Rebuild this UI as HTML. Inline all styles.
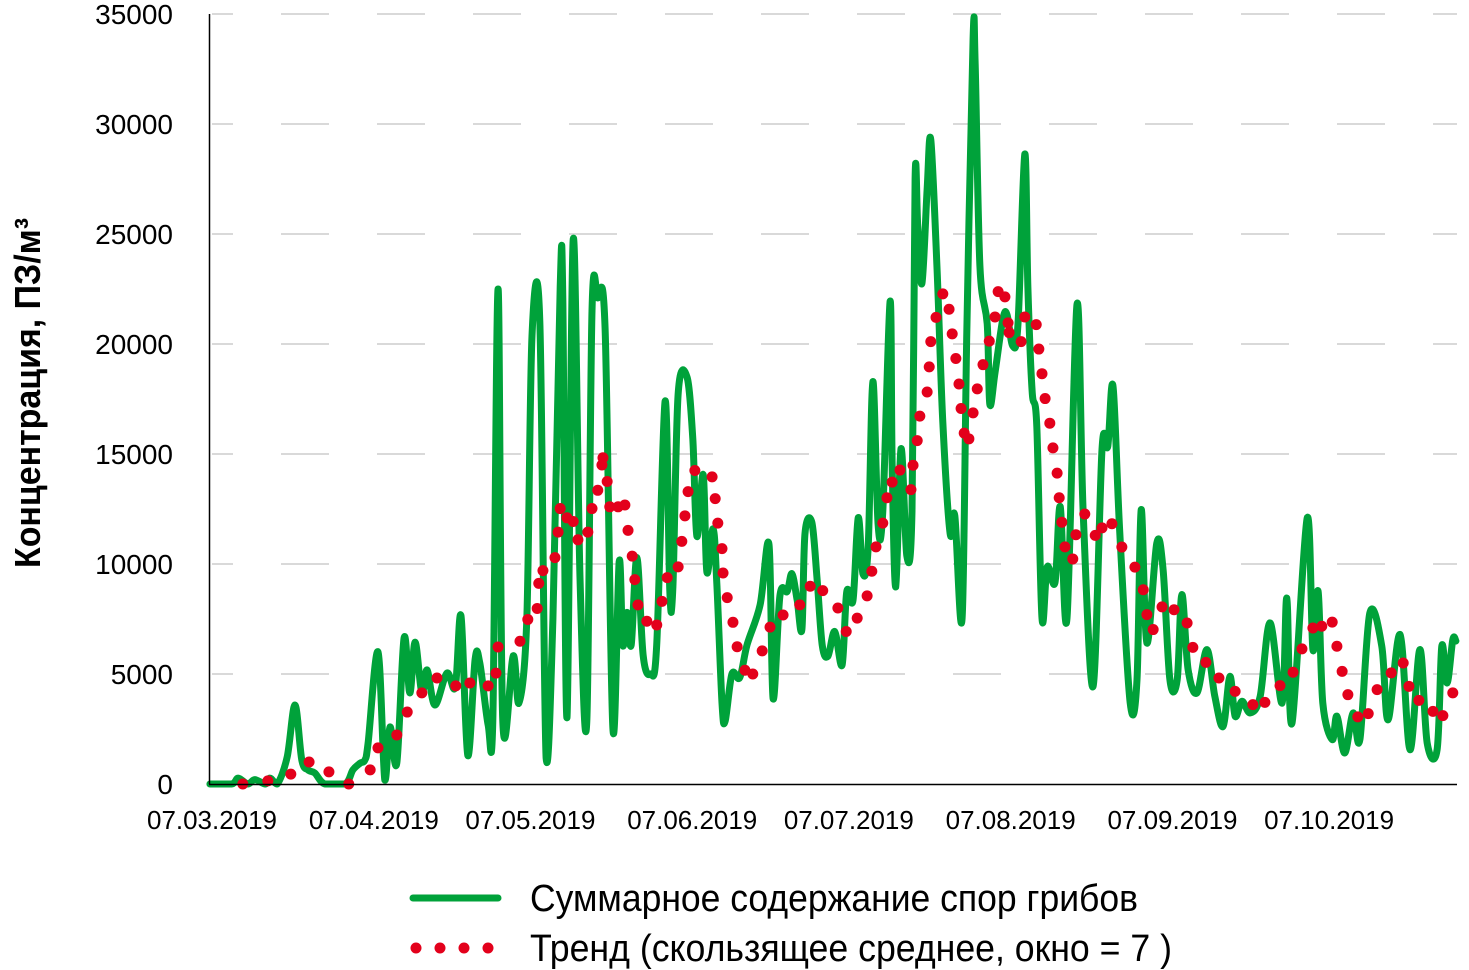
<!DOCTYPE html>
<html><head><meta charset="utf-8"><style>
html,body{margin:0;padding:0;background:#fff;}
svg{display:block;font-family:"Liberation Sans Narrow","Liberation Sans",sans-serif;}
</style></head><body>
<svg id="chart" width="1469" height="970" viewBox="0 0 1469 970" xmlns="http://www.w3.org/2000/svg">
<g id="grid"></g>
<g id="yticks"></g>
<g id="xticks"></g>
<text transform="translate(40,393) rotate(-90)" text-anchor="middle" font-weight="bold" font-size="36" textLength="350" lengthAdjust="spacingAndGlyphs" fill="#000">Концентрация, ПЗ/м³</text>
<g id="series"></g>
<line x1="209.5" y1="14" x2="209.5" y2="784" stroke="#000" stroke-width="1.5"/>
<line x1="209" y1="784.5" x2="1457" y2="784.5" stroke="#000" stroke-width="1.5"/>
<g>
<g>
<line x1="413" y1="898" x2="498" y2="898" stroke="#00a23a" stroke-width="7" stroke-linecap="round"/>
<text x="530" y="911" font-size="38" textLength="608" lengthAdjust="spacingAndGlyphs" fill="#000">Суммарное содержание спор грибов</text>
</g>
<g>
<circle cx="416" cy="948" r="5.5" fill="#e3001b"/>
<circle cx="440" cy="948" r="5.5" fill="#e3001b"/>
<circle cx="464" cy="948" r="5.5" fill="#e3001b"/>
<circle cx="488" cy="948" r="5.5" fill="#e3001b"/>
<text x="530" y="961" font-size="38" textLength="642" lengthAdjust="spacingAndGlyphs" fill="#000">Тренд (скользящее среднее, окно = 7 )</text>
</g>
</g>
</svg>
<script>
const yTicks = [0,5000,10000,15000,20000,25000,30000,35000];
const xTickDays = [0,31,61,92,122,153,184,214];
const xTickLabels = ["07.03.2019","07.04.2019","07.05.2019","07.06.2019","07.07.2019","07.08.2019","07.09.2019","07.10.2019"];
const totalDays = [-0.4,3.8,5.0,6.9,8.2,10.2,11.1,12.5,14.4,15.9,17.2,18.4,19.7,21.6,25.5,27.0,28.4,29.3,29.9,31.8,33.1,34.1,35.4,36.8,37.9,38.9,40.2,41.2,42.7,45.0,46.6,47.7,49.0,50.4,51.3,52.9,53.8,54.8,55.7,57.7,58.8,60.3,61.3,62.8,64.0,65.3,66.7,67.2,68.0,69.2,70.5,71.8,72.8,73.9,75.3,76.8,78.0,78.7,79.5,80.3,81.4,82.6,84.0,85.2,86.8,87.7,88.3,89.3,91.0,92.1,92.9,94.1,94.8,96.0,96.7,97.7,98.3,99.6,101.1,102.5,105.0,106.7,107.5,108.8,110.2,111.1,112.1,113.0,113.6,114.9,115.9,116.9,118.0,119.3,120.7,121.6,122.8,123.8,124.7,125.7,126.6,127.6,128.5,129.9,130.3,131.0,132.0,133.1,134.1,134.7,135.2,136.0,137.0,137.7,138.9,140.0,141.4,142.3,143.7,144.6,145.8,146.2,147.1,148.5,149.0,150.0,151.5,152.3,153.4,154.4,155.7,156.3,157.1,158.0,159.0,160.0,161.5,162.5,163.8,165.7,166.9,168.8,170.5,171.6,172.6,173.9,175.9,177.2,178.0,179.1,181.0,182.2,183.5,184.9,185.8,187.0,188.7,190.6,192.1,193.7,195.0,196.0,197.3,198.9,200.8,202.7,205.0,205.9,206.9,209.8,210.9,211.9,212.8,214.6,215.5,217.0,218.6,219.9,221.8,224.1,225.3,227.6,229.5,231.4,232.8,234.7,235.6,236.6,237.7,238.3];
const totalValues = [0,0,270,0,200,0,270,0,1230,3590,1090,640,500,0,0,640,950,1090,1860,6000,180,2590,950,6640,4140,6450,4140,5180,3590,5040,4410,7640,1300,5660,5500,2690,2850,22500,2850,5830,3680,7480,20370,21030,1190,7480,22600,22100,3020,24750,9380,2850,21500,22100,20700,2520,10120,6320,7800,6320,10290,5830,5000,6320,17400,8800,8970,17700,18500,15700,11260,14060,9630,11600,9130,3680,2850,5000,4830,6320,8140,10880,3880,8550,8750,9560,8350,7030,11390,11900,9360,6320,5810,6930,5410,8750,8350,12100,9560,10780,18290,11800,12400,21940,14430,8960,15240,10380,12400,27520,25400,22750,27010,29280,23360,16460,11390,12200,7540,20520,33900,32690,23560,20920,17270,18690,21130,21330,19910,20920,28630,22550,17880,16260,7540,9870,9160,12610,7540,21800,12320,4440,15200,15350,18080,11410,3680,4740,12470,6410,10950,9740,4740,4740,8610,5200,4140,6110,3990,2620,4890,3080,3760,3230,3990,7320,3680,8450,2770,12090,6110,8760,3680,2020,3080,1410,3230,2020,7770,6260,2920,6790,1560,6110,1860,1560,6260,4590,6560,6500];
const trendDays = [5.9,10.7,15.1,18.6,22.4,26.2,30.3,31.8,35.4,37.4,40.2,43.1,46.7,49.4,52.9,54.4,54.8,59.0,60.5,62.3,62.6,63.4,65.7,66.3,66.7,68.0,69.2,70.1,72.0,72.8,73.9,74.7,74.9,75.7,76.2,77.8,79.1,79.7,80.5,81.0,81.6,83.3,85.2,86.2,87.2,89.3,90.0,90.6,91.2,92.5,95.8,96.4,96.9,97.7,97.9,98.7,99.8,100.6,102.1,103.6,105.4,106.9,109.4,112.6,114.6,117.0,119.9,121.5,123.6,125.5,126.4,127.2,128.5,129.3,130.3,131.8,133.9,134.3,135.1,135.6,137.0,137.4,137.7,138.7,140.0,141.2,141.8,142.5,143.1,143.5,144.1,145.0,145.8,146.6,147.7,148.9,150.0,150.6,151.9,152.5,152.7,155.0,155.7,157.9,158.4,159.0,159.6,160.5,161.1,161.9,162.3,162.8,163.4,164.9,165.5,167.2,169.2,170.5,172.4,174.3,176.8,178.4,179.1,180.3,182.0,184.3,186.8,187.9,190.4,192.9,196.0,199.4,201.7,204.6,207.1,208.8,210.9,212.6,214.6,215.5,216.5,217.6,219.5,221.5,223.2,225.9,228.2,229.3,231.2,233.9,235.8,237.7];
const trendValues = [0,140,450,1000,550,0,640,1640,2230,3270,4140,4820,4460,4590,4460,5040,6230,6490,7480,7980,9120,9700,10290,11450,12520,12100,11930,11100,11450,12520,13350,14500,14830,13750,12600,12600,12680,11530,10360,9290,8140,7400,7230,8300,9380,9870,11030,12190,13290,14250,13960,12970,11860,10700,9590,8470,7350,6240,5170,5000,6050,7130,7680,8140,8990,8790,8000,6930,7540,8550,9670,10780,11860,13010,13720,14270,13380,14490,15610,16720,17820,18960,20110,21210,22280,21580,20460,19340,18180,17070,15950,15690,16870,17960,19060,20130,21230,22380,22140,20960,20520,20110,21230,20880,19770,18650,17520,16400,15280,14130,13010,11900,10780,10230,11330,12270,11300,11640,11830,10770,9860,8830,7700,7020,8050,7920,7320,6210,5530,4820,4210,3610,3710,4470,5080,6140,7090,7170,7360,6260,5120,4060,3050,3200,4290,5050,5500,4440,3800,3300,3110,4140];

const NS = "http://www.w3.org/2000/svg";
const xScale = d => 212 + d * 5.22;
const yScale = v => 784 - v * 0.022;
function mk(tag, attrs, parent){const e=document.createElementNS(NS,tag);for(const k in attrs)e.setAttribute(k,attrs[k]);parent.appendChild(e);return e;}

const grid=document.getElementById('grid'), yt=document.getElementById('yticks'), xt=document.getElementById('xticks'), series=document.getElementById('series');
yTicks.forEach(v=>{
  if(v>0){
    const g=mk('line',{x1:212,x2:1457,y1:yScale(v),y2:yScale(v),stroke:'#d9d9d9','stroke-width':2,'stroke-dasharray':'48 48','stroke-dashoffset':27},grid);
    
    
  }
  const t=mk('text',{x:173,y:yScale(v)+10,'text-anchor':'end','font-size':28,fill:'#000'},yt);
  
  
  t.textContent=v;
});
xTickDays.forEach((d,i)=>{
  const t=mk('text',{x:xScale(d),y:829,'text-anchor':'middle','font-size':26,fill:'#000',textLength:130,lengthAdjust:'spacingAndGlyphs'},xt);
  
  
  t.textContent=xTickLabels[i];
});
// smooth line (Catmull-Rom)
const pts=totalDays.map((d,i)=>[xScale(d),yScale(totalValues[i])]);
let dStr='M'+pts[0][0]+','+pts[0][1];
for(let i=0;i<pts.length-1;i++){
  const p0=pts[Math.max(0,i-1)],p1=pts[i],p2=pts[i+1],p3=pts[Math.min(pts.length-1,i+2)];
  const c1=[p1[0]+(p2[0]-p0[0])/6,p1[1]+(p2[1]-p0[1])/6];
  const c2=[p2[0]-(p3[0]-p1[0])/6,p2[1]-(p3[1]-p1[1])/6];
  dStr+=' C'+c1[0].toFixed(1)+','+Math.min(784,c1[1]).toFixed(1)+' '+c2[0].toFixed(1)+','+Math.min(784,c2[1]).toFixed(1)+' '+p2[0].toFixed(1)+','+p2[1].toFixed(1);
}
const line=mk('path',{d:dStr,fill:'none',stroke:'#00a23a','stroke-width':7,'stroke-linejoin':'round','stroke-linecap':'round'},series);


trendDays.forEach((d,i)=>{
  const c=mk('circle',{cx:xScale(d),cy:yScale(trendValues[i]),r:5.5,fill:'#e3001b'},series);
  
  
});
</script>
</body></html>
